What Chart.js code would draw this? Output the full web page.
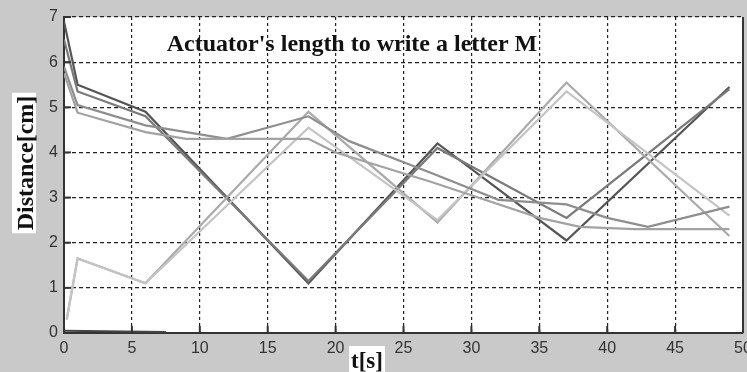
<!DOCTYPE html>
<html>
<head>
<meta charset="utf-8">
<script src="https://cdn.jsdelivr.net/npm/chart.js@4.4.0/dist/chart.umd.min.js"></script>
<style>
  html, body { margin: 0; padding: 0; background: #c9c9c9; }
  #wrap { width: 747px; height: 372px; }
</style>
</head>
<body>
<div id="wrap"><canvas id="chart" width="747" height="372"></canvas></div>
<script>
// axis ticks
const xTicks = [0, 5, 10, 15, 20, 25, 30, 35, 40, 45, 50];
const yTicks = [0, 1, 2, 3, 4, 5, 6, 7];

// series, as [t, distance] pairs
const lineM1 = [[0, 6.9], [1, 5.5], [6, 4.9], [18, 1.1], [27.5, 4.2], [37, 2.05], [49, 5.45]];
const lineM2 = [[0, 6.5], [1, 5.35], [6, 4.8], [18, 1.15], [27.5, 4.1], [37, 2.55], [49, 5.4]];
const lineW1 = [[0.2, 0.3], [1, 1.65], [6, 1.1], [18, 4.9], [27.5, 2.45], [37, 5.55], [49, 2.15]];
const lineW2 = [[0.2, 0.3], [1, 1.65], [6, 1.1], [18, 4.55], [27.5, 2.5], [37, 5.35], [49, 2.6]];
const lineP = [[0, 5.9], [1, 5.05], [6, 4.6], [12, 4.3], [18, 4.8], [21, 4.25], [27, 3.55], [32, 2.95], [37, 2.85], [40, 2.55], [43, 2.35], [49, 2.8]];
const lineQ = [[0, 5.75], [1, 4.88], [6, 4.45], [9, 4.3], [18, 4.3], [20, 4.0], [27, 3.35], [30, 3.05], [35, 2.55], [38, 2.35], [42, 2.3], [49, 2.3]];
const lineBase = [[0, 0.05], [7.5, 0.02]];

const titleText = "Actuator's length to write a letter M";
const xLabel = 't[s]';
const yLabel = 'Distance[cm]';

function pts(arr) { return arr.map(p => ({x: p[0], y: p[1]})); }

function ds(arr, color, width) {
  return {data: pts(arr), borderColor: color, borderWidth: width, pointRadius: 0, tension: 0, fill: false};
}

const decor = {
  id: 'decor',
  beforeDraw(chart) {
    const {ctx, chartArea: a} = chart;
    ctx.save();
    ctx.fillStyle = '#c9c9c9';
    ctx.fillRect(0, 0, chart.width, chart.height);
    ctx.fillStyle = '#ffffff';
    ctx.fillRect(a.left, a.top, a.right - a.left, a.bottom - a.top);
    ctx.restore();
  },
  afterDraw(chart) {
    const {ctx, chartArea: a, scales: {x, y}} = chart;
    ctx.save();
    // right border
    ctx.strokeStyle = '#333';
    ctx.lineWidth = 2;
    ctx.beginPath();
    ctx.moveTo(a.right, a.top);
    ctx.lineTo(a.right, a.bottom);
    ctx.stroke();
    // inward tick marks
    xTicks.forEach(v => {
      const px = x.getPixelForValue(v);
      ctx.beginPath(); ctx.moveTo(px, a.bottom); ctx.lineTo(px, a.bottom - 7); ctx.stroke();
    });
    yTicks.forEach(v => {
      const py = y.getPixelForValue(v);
      ctx.beginPath(); ctx.moveTo(a.left, py); ctx.lineTo(a.left + 7, py); ctx.stroke();
    });
    // title
    ctx.fillStyle = '#111';
    ctx.font = 'bold 24px "Liberation Serif", "Times New Roman", serif';
    ctx.textAlign = 'center';
    ctx.textBaseline = 'alphabetic';
    ctx.fillText(titleText, 352, 51);
    // x label
    ctx.font = 'bold 23px "Liberation Serif", "Times New Roman", serif';
    let w = ctx.measureText(xLabel).width;
    ctx.fillStyle = '#fff';
    ctx.fillRect(367 - w / 2 - 2, 346, w + 4, 26);
    ctx.fillStyle = '#111';
    ctx.fillText(xLabel, 367, 368);
    // y label
    ctx.font = 'bold 24px "Liberation Serif", "Times New Roman", serif';
    ctx.translate(25, 163);
    ctx.rotate(-Math.PI / 2);
    w = ctx.measureText(yLabel).width;
    ctx.fillStyle = '#fff';
    ctx.fillRect(-w / 2 - 3, -13, w + 6, 24);
    ctx.fillStyle = '#111';
    ctx.fillText(yLabel, 0, 8);
    ctx.restore();
  }
};

const ctx = document.getElementById('chart').getContext('2d');
new Chart(ctx, {
  type: 'line',
  data: {
    datasets: [
      ds(lineBase, '#444', 2),
      ds(lineQ, '#a2a2a2', 2.2),
      ds(lineP, '#8e8e8e', 2.2),
      ds(lineW2, '#c4c4c4', 2.2),
      ds(lineW1, '#aaaaaa', 2.2),
      ds(lineM2, '#7a7a7a', 2.2),
      ds(lineM1, '#555555', 2.2)
    ]
  },
  options: {
    responsive: false,
    animation: false,
    devicePixelRatio: 1,
    layout: {padding: {top: 17, right: 4, left: 0, bottom: 0}},
    plugins: {legend: {display: false}, tooltip: {enabled: false}, title: {display: false}},
    scales: {
      x: {
        type: 'linear', min: 0, max: 50,
        afterBuildTicks: s => { s.ticks = xTicks.map(v => ({value: v})); },
        afterFit: s => { s.height = 39; s.paddingLeft = 0; s.paddingRight = 0; },
        grid: {color: '#222', lineWidth: 1.2, drawTicks: false},
        border: {display: true, color: '#333', width: 2, dash: [3, 3]},
        ticks: {color: '#333', padding: 6, maxRotation: 0, autoSkip: false,
                font: {family: '"Liberation Sans", Arial, sans-serif', size: 16}}
      },
      y: {
        type: 'linear', min: 0, max: 7,
        afterBuildTicks: s => { s.ticks = yTicks.map(v => ({value: v})); },
        afterFit: s => { s.width = 64; s.paddingTop = 0; s.paddingBottom = 0; },
        grid: {color: '#222', lineWidth: 1.2, drawTicks: false},
        border: {display: true, color: '#333', width: 2, dash: [4, 3]},
        ticks: {color: '#333', padding: 6, autoSkip: false,
                font: {family: '"Liberation Sans", Arial, sans-serif', size: 16}}
      }
    }
  },
  plugins: [decor]
});
</script>
</body>
</html>
